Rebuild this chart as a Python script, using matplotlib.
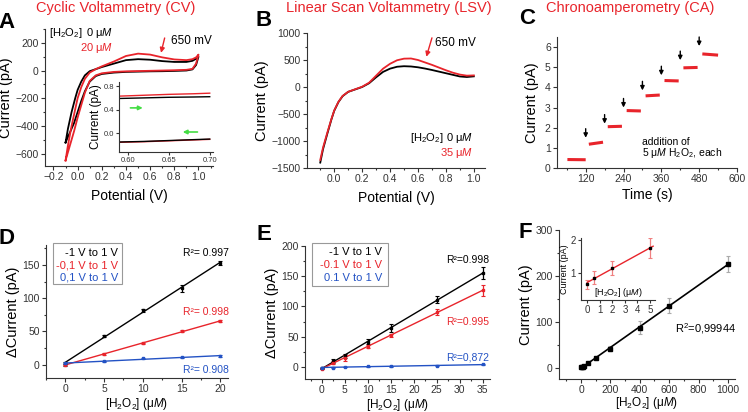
import numpy as np
import matplotlib
matplotlib.use("Agg")
import matplotlib.pyplot as plt
from matplotlib.ticker import MultipleLocator
from matplotlib.patches import Rectangle

# --- Konstanter ---
W, H = 748, 412
RED = "#e8242b"
BLUE = "#2352c4"
GREEN = "#44dd44"
DARK = "#333333"

plt.rcParams["font.family"] = ["Liberation Sans", "DejaVu Sans"]
plt.rcParams["mathtext.fontset"] = "custom"
plt.rcParams["mathtext.rm"] = "Liberation Sans"
plt.rcParams["mathtext.it"] = "Liberation Sans:italic"
plt.rcParams["mathtext.bf"] = "Liberation Sans:bold"

# --- Data: A (CV) ---
cv_e_fwd = [-0.1, -0.08, -0.05, -0.02, 0.0, 0.03, 0.06, 0.1, 0.15, 0.2, 0.3, 0.4, 0.5, 0.6, 0.7, 0.8, 0.9, 0.95, 0.98, 1.0]
cv_i0_fwd = [-520, -420, -300, -200, -140, -80, -35, -5, 10, 25, 50, 75, 82, 78, 68, 62, 62, 70, 85, 100]
cv_i20_fwd = [-650, -540, -400, -280, -200, -120, -60, -15, 10, 30, 65, 105, 122, 115, 95, 80, 75, 82, 95, 115]
cv_e_rev = [1.0, 0.98, 0.95, 0.9, 0.8, 0.7, 0.6, 0.5, 0.4, 0.3, 0.2, 0.15, 0.1, 0.06, 0.03, 0.0, -0.03, -0.06, -0.1]
cv_i0_rev = [100, 40, 8, 0, -3, -5, -6, -8, -10, -15, -25, -40, -80, -150, -220, -300, -380, -440, -520]
cv_i20_rev = [115, 50, 12, 5, 2, 0, -2, -4, -6, -10, -20, -35, -75, -160, -250, -340, -440, -530, -650]

ins_e = [0.59, 0.62, 0.65, 0.68, 0.70]
ins_i0_up = [0.59, 0.60, 0.61, 0.615, 0.62]
ins_i20_up = [0.63, 0.645, 0.66, 0.67, 0.68]
ins_i0_lo = [-0.15, -0.14, -0.125, -0.11, -0.10]
ins_i20_lo = [-0.155, -0.145, -0.13, -0.115, -0.105]

# --- Data: B (LSV) ---
lsv_e = [-0.1, -0.08, -0.05, -0.02, 0.0, 0.03, 0.06, 0.1, 0.15, 0.2, 0.25, 0.3, 0.35, 0.4, 0.45,
         0.5, 0.55, 0.6, 0.65, 0.7, 0.75, 0.8, 0.85, 0.9, 0.95, 1.0]
lsv_i0 = [-1400, -1150, -870, -600, -440, -280, -170, -90, -45, 0, 70, 180, 280, 340, 375,
          385, 380, 365, 342, 315, 285, 255, 225, 195, 185, 197]
lsv_i35 = [-1350, -1120, -850, -590, -435, -275, -165, -88, -42, 5, 80, 210, 340, 430, 495,
           525, 528, 500, 455, 410, 360, 310, 265, 230, 210, 215]

# --- Data: C (CA) ---
ca_t0 = [62, 130, 190, 250, 310, 370, 430, 490]
ca_t1 = [120, 175, 235, 295, 355, 415, 475, 540]
ca_i0 = [0.42, 1.18, 2.05, 2.85, 3.58, 4.34, 4.97, 5.66]
ca_i1 = [0.41, 1.28, 2.07, 2.83, 3.62, 4.32, 4.99, 5.60]
ca_add_t = [120, 180, 240, 300, 360, 420, 480]
ca_add_i = [1.5, 2.2, 3.0, 3.85, 4.6, 5.35, 6.05]

# --- Data: D ---
d_c = [0, 5, 10, 15, 20]
d_black = [1, 43, 82, 115, 153]
d_black_err = [3, 2, 2, 5, 3]
d_red = [0, 16, 32, 50.5, 65.5]
d_red_err = [1, 1, 1, 1, 1]
d_blue = [2, 5, 9.5, 11, 13]
d_blue_err = [1, 1, 1, 1, 1]

# --- Data: E ---
e_c = [0, 2.5, 5, 10, 15, 25, 35]
e_black = [-2, 10, 18, 41.5, 64.5, 111, 155]
e_black_err = [1, 3, 4, 4, 6, 6, 10]
e_red = [-3, 7, 15.5, 33.5, 52, 90.5, 126.5]
e_red_err = [1, 2, 5, 3, 2, 5, 9]
e_blue = [-1, -1, 0, 1, 1, 2, 4]
e_blue_err = [0.5, 0.5, 0.5, 0.5, 0.5, 0.5, 0.5]

# --- Data: F ---
f_c = [0, 5, 10, 20, 50, 100, 200, 400, 600, 1000]
f_i = [0.7, 0.9, 2, 4, 9, 20, 41, 87, 135, 226]
f_err = [0.5, 0.5, 1, 1, 2, 3, 5, 14, 16, 18]
fi_c = [0, 0.5, 2, 5]
fi_i = [0.67, 0.87, 1.16, 1.74]
fi_err = [0.13, 0.19, 0.2, 0.3]

HO = r"[H$_2$O$_2$]"
CONC = HO + r" (μ$\mathit{M}$)"


# --- Funksjoner ---
def akse(fig, l, t, r, b, size=7.5):
    ax = fig.add_axes([l / W, 1 - b / H, (r - l) / W, (b - t) / H])
    ax.spines[["top", "right"]].set_visible(False)
    for s in ("left", "bottom"):
        ax.spines[s].set_color(DARK)
        ax.spines[s].set_linewidth(0.8)
    ax.tick_params(which="both", direction="out", labelsize=size, pad=1.5,
                   width=0.8, color=DARK, labelcolor=DARK)
    ax.tick_params(which="major", length=3)
    ax.tick_params(which="minor", length=1.5)
    return ax


def ftekst(fig, x, y, s, **kw):
    kw.setdefault("va", "center")
    return fig.text(x / W, 1 - y / H, s, **kw)


def boks(ax, x0, y0, x1, y1):
    # pikselboks i figurkoordinater
    r = Rectangle((x0 / W, 1 - y1 / H), (x1 - x0) / W, (y1 - y0) / H,
                  transform=ax.figure.transFigure, fill=False, ec="#999999", lw=0.8)
    ax.figure.add_artist(r)


def pil(ax, xy, xytext, col, lw=1, ms=7):
    ax.annotate("", xy=xy, xytext=xytext,
                arrowprops=dict(arrowstyle="-|>", color=col, lw=lw, mutation_scale=ms,
                                shrinkA=0, shrinkB=0))


fig = plt.figure(figsize=(W / 100, H / 100), dpi=100)

# --- A ---
ax = akse(fig, 45, 29, 213, 166)
ax.plot(cv_e_fwd + cv_e_rev, cv_i0_fwd + cv_i0_rev, color="black", lw=1.3)
ax.plot(cv_e_fwd + cv_e_rev, cv_i20_fwd + cv_i20_rev, color=RED, lw=1.3)
ax.set_xlim(-0.27, 1.12)
ax.set_ylim(-690, 300)
ax.xaxis.set_minor_locator(MultipleLocator(0.1))
ax.yaxis.set_major_locator(MultipleLocator(200))
ax.yaxis.set_minor_locator(MultipleLocator(100))
ax.set_xticks([-0.2, 0.0, 0.2, 0.4, 0.6, 0.8, 1.0])
ax.set_xlabel("Potential (V)", fontsize=10, labelpad=5)
ax.set_ylabel("Current (pA)", fontsize=10.5, labelpad=2)
pil(ax, (0.69, 128), (0.72, 235), RED)
ax.text(0.77, 215, "650 mV", fontsize=8.5, va="center")

ins = akse(fig, 119, 82, 213, 152, size=5.5)
ins.patch.set_alpha(0)
ins.plot(ins_e, ins_i0_up, color="black", lw=1)
ins.plot(ins_e, ins_i20_up, color=RED, lw=1)
ins.plot(ins_e, ins_i20_lo, color=RED, lw=1)
ins.plot(ins_e, ins_i0_lo, color="black", lw=1)
ins.set_xlim(0.589, 0.704)
ins.set_ylim(-0.32, 0.87)
ins.set_xticks([0.60, 0.65, 0.70])
ins.set_yticks([0.0, 0.4, 0.8])
ins.xaxis.set_major_formatter(lambda v, p: f"{v:.2f}")
ins.yaxis.set_major_formatter(lambda v, p: f"{v:.1f}")
ins.tick_params(which="major", length=2)
ins.set_ylabel("Current (pA)", fontsize=8.5, labelpad=1)
pil(ins, (0.618, 0.43), (0.603, 0.43), GREEN, lw=1.2, ms=6)
pil(ins, (0.667, 0.02), (0.685, 0.02), GREEN, lw=1.2, ms=6)

ftekst(fig, 49, 33, HO, fontsize=8)
ftekst(fig, 113, 33, r"0 μ$\mathit{M}$", fontsize=8, ha="right")
ftekst(fig, 113, 48, r"20 μ$\mathit{M}$", fontsize=8, ha="right", color=RED)

# --- B ---
ax = akse(fig, 307, 33, 485, 168)
ax.plot(lsv_e, lsv_i0, color="black", lw=1.3)
ax.plot(lsv_e, lsv_i35, color=RED, lw=1.3)
ax.set_xlim(-0.195, 1.08)
ax.set_ylim(-1500, 1000)
ax.xaxis.set_minor_locator(MultipleLocator(0.1))
ax.yaxis.set_major_locator(MultipleLocator(500))
ax.yaxis.set_minor_locator(MultipleLocator(250))
ax.set_xticks([0.0, 0.2, 0.4, 0.6, 0.8, 1.0])
ax.set_xlabel("Potential (V)", fontsize=10, labelpad=5)
ax.set_ylabel("Current (pA)", fontsize=10.5, labelpad=2)
pil(ax, (0.66, 560), (0.70, 910), RED)
ax.text(0.725, 810, "650 mV", fontsize=8.5, va="center")
ftekst(fig, 410, 138, HO, fontsize=8)
ftekst(fig, 473, 138, r"0 μ$\mathit{M}$", fontsize=8, ha="right")
ftekst(fig, 473, 153, r"35 μ$\mathit{M}$", fontsize=8, ha="right", color=RED)

# --- C ---
ax = akse(fig, 557, 37, 737, 168)
for t0, t1, i0, i1 in zip(ca_t0, ca_t1, ca_i0, ca_i1):
    ax.plot([t0, t1], [i0, i1], color=RED, lw=2.2, solid_capstyle="butt")
for t, i in zip(ca_add_t, ca_add_i):
    pil(ax, (t, i), (t, i + 0.45), "black", lw=1, ms=6)
ax.set_xlim(29, 600)
ax.set_ylim(0, 6.5)
ax.set_xticks([120, 240, 360, 480, 600])
ax.xaxis.set_minor_locator(MultipleLocator(60))
ax.yaxis.set_major_locator(MultipleLocator(1))
ax.set_xlabel("Time (s)", fontsize=10, labelpad=3)
ax.set_ylabel("Current (pA)", fontsize=10.5, labelpad=4)
ax.text(300, 1.27, "addition of", fontsize=7.5, va="center")
ax.text(300, 0.72, r"5 μ$\mathit{M}$ H$_2$O$_2$, each", fontsize=7.5, va="center")


# --- D og E ---
def kalibrering(ax, c, serier):
    for y, err, col in serier:
        ax.errorbar(c, y, yerr=err, fmt="s", ms=2, color=col, ecolor=col,
                    elinewidth=0.9, capsize=1.5, capthick=0.8)
        k, m = np.polyfit(c, y, 1)
        xs = np.array([c[0], c[-1]])
        ax.plot(xs, k * xs + m, color=col, lw=1)
    ax.set_xlabel(CONC, fontsize=8.5, labelpad=1)
    ax.set_ylabel("ΔCurrent (pA)", fontsize=10.5, labelpad=2)


ax = akse(fig, 46, 245, 228, 378)
kalibrering(ax, d_c, [(d_black, d_black_err, "black"), (d_red, d_red_err, RED),
                      (d_blue, d_blue_err, BLUE)])
ax.set_xlim(-2.5, 21)
ax.set_ylim(-20, 180)
ax.xaxis.set_major_locator(MultipleLocator(5))
ax.xaxis.set_minor_locator(MultipleLocator(2.5))
ax.yaxis.set_major_locator(MultipleLocator(50))
ax.yaxis.set_minor_locator(MultipleLocator(25))
boks(ax, 53, 243, 122, 284)
ftekst(fig, 118, 253, "-1 V to 1 V", fontsize=8, ha="right")
ftekst(fig, 118, 265, "-0,1 V to 1 V", fontsize=8, ha="right", color=RED)
ftekst(fig, 118, 277, "0,1 V to 1 V", fontsize=8, ha="right", color=BLUE)
ftekst(fig, 229, 253, "R²= 0.997", fontsize=7.5, ha="right")
ftekst(fig, 229, 312, "R²= 0.998", fontsize=7.5, ha="right", color=RED)
ftekst(fig, 229, 370, "R²= 0.908", fontsize=7.5, ha="right", color=BLUE)

ax = akse(fig, 305, 246, 490, 379)
kalibrering(ax, e_c, [(e_black, e_black_err, "black"), (e_red, e_red_err, RED),
                      (e_blue, e_blue_err, BLUE)])
ax.set_xlim(-3.7, 36.6)
ax.set_ylim(-20, 200)
ax.xaxis.set_major_locator(MultipleLocator(5))
ax.xaxis.set_minor_locator(MultipleLocator(2.5))
ax.yaxis.set_major_locator(MultipleLocator(50))
ax.yaxis.set_minor_locator(MultipleLocator(25))
boks(ax, 312, 243, 388, 286)
ftekst(fig, 382, 252, "-1 V to 1 V", fontsize=8, ha="right")
ftekst(fig, 382, 265, "-0.1 V to 1 V", fontsize=8, ha="right", color=RED)
ftekst(fig, 382, 278, "0.1 V to 1 V", fontsize=8, ha="right", color=BLUE)
ftekst(fig, 489, 260, "R²=0.998", fontsize=7.5, ha="right")
ftekst(fig, 489, 322, "R²=0.995", fontsize=7.5, ha="right", color=RED)
ftekst(fig, 489, 357, "R²=0,872", fontsize=7.5, ha="right", color=BLUE)

# --- F ---
ax = akse(fig, 559, 230, 735, 379)
ax.errorbar(f_c, f_i, yerr=f_err, fmt="s", ms=2.5, color="black", ecolor="#aaaaaa",
            elinewidth=0.9, capsize=1.5, capthick=0.8)
k, m = np.polyfit(f_c, f_i, 1)
xs = np.array([0, 1000])
ax.plot(xs, k * xs + m, color="black", lw=1.2)
ax.set_xlim(-150, 1048)
ax.set_ylim(-25, 300)
ax.xaxis.set_major_locator(MultipleLocator(200))
ax.xaxis.set_minor_locator(MultipleLocator(100))
ax.yaxis.set_major_locator(MultipleLocator(100))
ax.yaxis.set_minor_locator(MultipleLocator(50))
ax.set_xlabel(CONC, fontsize=8.5, labelpad=0)
ax.set_ylabel("Current (pA)", fontsize=10.5, labelpad=2)
ftekst(fig, 675, 329, r"R$^2$=0,99944", fontsize=8)

ins = akse(fig, 581, 238, 655, 300, size=7)
ins.errorbar(fi_c, fi_i, yerr=fi_err, fmt="s", ms=1.5, color="black", ecolor="#f08080",
             elinewidth=0.9, capsize=1.5, capthick=0.8)
k, m = np.polyfit(fi_c, fi_i, 1)
xs = np.array([0, 5.25])
ins.plot(xs, k * xs + m, color=RED, lw=1)
ins.set_xlim(-0.5, 5.4)
ins.set_ylim(0.2, 2.05)
ins.set_xticks([0, 1, 2, 3, 4, 5])
ins.set_yticks([1, 2])
ins.tick_params(which="major", length=2)
ins.set_ylabel("Current (pA)", fontsize=6.5, labelpad=1)
ins.text(0.5, 0.12, CONC, transform=ins.transAxes, fontsize=6.5, ha="center", va="center")

# --- Titler og bokstaver ---
ftekst(fig, 116, 8, "Cyclic Voltammetry (CV)", fontsize=10.5, color=RED, ha="center")
ftekst(fig, 389, 8, "Linear Scan Voltammetry (LSV)", fontsize=10.5, color=RED, ha="center")
ftekst(fig, 630, 8, "Chronoamperometry (CA)", fontsize=10.5, color=RED, ha="center")
for bokstav, x, y in [("A", 7, 22), ("B", 264, 21), ("C", 527, 19),
                      ("D", 7, 238), ("E", 264, 235), ("F", 525, 233)]:
    ftekst(fig, x, y, bokstav, fontsize=16, fontweight="bold", ha="center")

fig.savefig("out.png", dpi=100)
